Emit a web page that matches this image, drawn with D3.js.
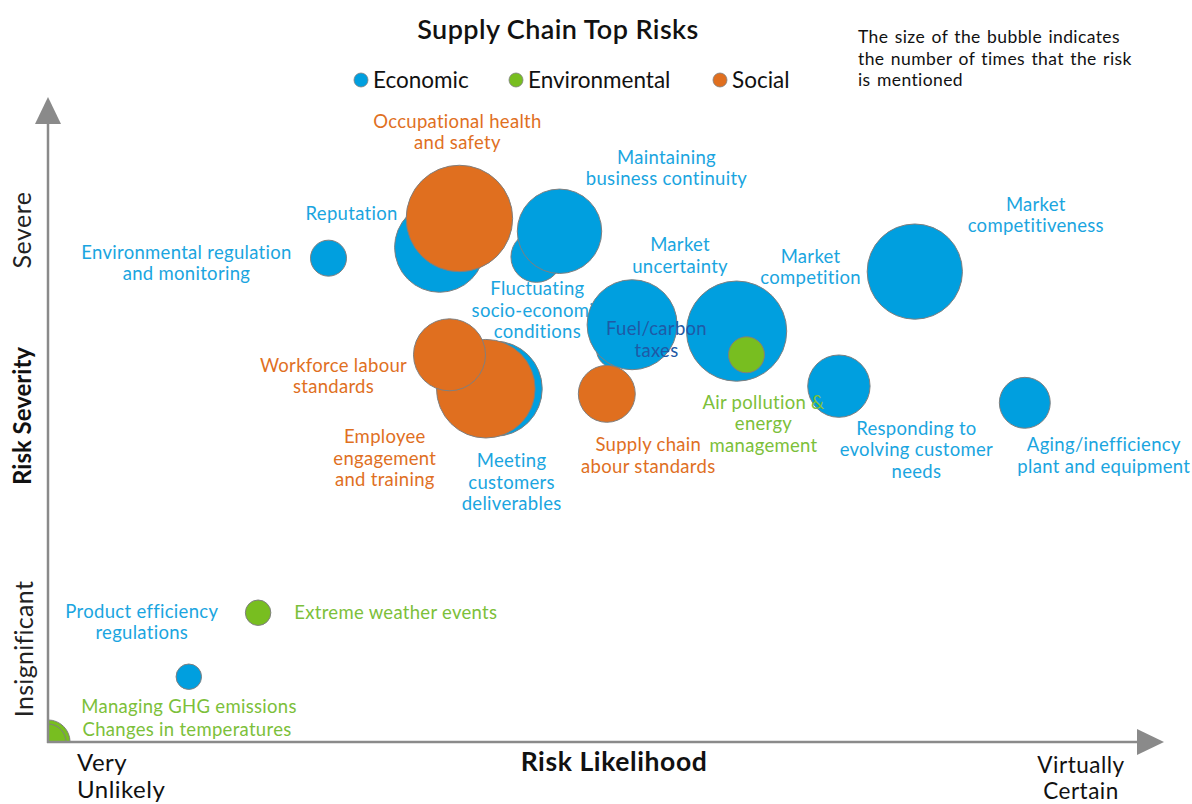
<!DOCTYPE html>
<html>
<head>
<meta charset="utf-8">
<script src="https://cdn.jsdelivr.net/npm/d3@7"></script>
<style>
  body { margin: 0; background: #fff; }
  svg { display: block; }
  text { font-family: Lato, "Noto Sans", sans-serif; }
</style>
</head>
<body>
<div id="chart"></div>
<script>
// data
const risks = [
  "Environmental regulation and monitoring", "Reputation", "Occupational health and safety",
  "Fluctuating socio-economic conditions", "Maintaining business continuity", "Fuel/carbon taxes",
  "Market uncertainty", "Market competition", "Air pollution & energy management",
  "Responding to evolving customer needs", "Market competitiveness", "Aging/inefficiency plant and equipment",
  "Supply chain labour standards", "Meeting customers deliverables", "Employee engagement and training",
  "Workforce labour standards", "Extreme weather events", "Product efficiency regulations",
  "Managing GHG emissions", "Changes in temperatures"
];
const category = [
  "Economic", "Economic", "Social",
  "Economic", "Economic", "Economic",
  "Economic", "Economic", "Environmental",
  "Economic", "Economic", "Economic",
  "Social", "Economic", "Social",
  "Social", "Environmental", "Economic",
  "Environmental", "Environmental"
];
// likelihood 0-100 (x), severity 0-100 (y), times mentioned (bubble size)
const likelihood = [25.5, 35.6, 37.4, 44.4, 46.5, 51.5, 53.1, 62.6, 63.5, 71.9, 78.8, 88.8, 50.8, 40.6, 39.8, 36.5, 19.1, 12.8, 0, 0];
const severity   = [75.6, 77.3, 81.8, 75.8, 79.8, 61.3, 65.2, 64.2, 60.5, 55.6, 73.5, 53.0, 54.4, 55.2, 55.2, 60.5, 20.2, 10.2, 0, 0];
const mentions   = [4, 25, 35, 8, 22, 4, 25, 31, 4, 12, 28, 8, 10, 28, 30, 16, 2, 2, 6, 4];

const labelLines = [
  ["Environmental regulation", "and monitoring"], ["Reputation"], ["Occupational health", "and safety"],
  ["Fluctuating", "socio-economic", "conditions"], ["Maintaining", "business continuity"], ["Fuel/carbon", "taxes"],
  ["Market", "uncertainty"], ["Market", "competition"], ["Air pollution &", "energy", "management"],
  ["Responding to", "evolving customer", "needs"], ["Market", "competitiveness"], ["Aging/inefficiency", "plant and equipment"],
  ["Supply chain", "abour standards"], ["Meeting", "customers", "deliverables"], ["Employee", "engagement", "and training"],
  ["Workforce labour", "standards"], ["Extreme weather events"], ["Product efficiency", "regulations"],
  ["Managing GHG emissions"], ["Changes in temperatures"]
];

const legendItems = ["Economic", "Environmental", "Social"];

// label placement relative to bubble centre (px)
const labelOffsets = [
  [-142, -6], [-88, -34], [-2, -97],
  [1, 32], [107, -74], [42, -21],
  [48, -80], [74, -75], [17, 47.5],
  [77.5, 42], [121, -67.5], [79, 42],
  [41.5, 51], [17, 72], [-101, 48],
  [-116, 10.5], [137.7, 0], [-47, -65.5],
  [141, -35], [139, -12]
];

const width = 1192;
const height = 804;
const origin = { x: 48, y: 742 };

const fill = { Economic: "#009FDF", Environmental: "#78BE20", Social: "#E06F1F" };
const textColor = { Economic: "#1AA5E0", Environmental: "#7CC03A", Social: "#E0701F" };

const data = risks.map((name, i) => ({
  name, cat: category[i], x: likelihood[i], y: severity[i], n: mentions[i],
  lines: labelLines[i], off: labelOffsets[i]
}));

const svg = d3.select("#chart").append("svg")
  .attr("width", width)
  .attr("height", height);

const xScale = d3.scaleLinear().domain([0, 100]).range([origin.x, 1148]);
const yScale = d3.scaleLinear().domain([0, 100]).range([origin.y, 102]);
const rScale = d3.scaleSqrt().domain([0, 1]).range([0, 9]);

svg.append("clipPath").attr("id", "plot")
  .append("rect")
  .attr("x", origin.x).attr("y", 0)
  .attr("width", width - origin.x).attr("height", origin.y);

// labels that sit behind the bubbles
const behind = ["Fluctuating socio-economic conditions"];

const drawLabels = (sel) => {
  sel.each(function (d) {
    const t = d3.select(this).append("text")
      .attr("text-anchor", "middle")
      .attr("font-size", 18.5)
      .attr("letter-spacing", 0.3)
      .attr("fill", d.name === "Fuel/carbon taxes" ? "#1F5AA6" : textColor[d.cat]);
    d.lines.forEach((line, j) => {
      t.append("tspan")
        .attr("x", xScale(d.x) + d.off[0])
        .attr("y", yScale(d.y) + d.off[1] + j * 21.5)
        .attr("dy", "0.35em")
        .text(line);
    });
  });
};

svg.append("g").selectAll("g")
  .data(data.filter(d => behind.includes(d.name)))
  .join("g")
  .call(drawLabels);

// bubbles
svg.append("g")
  .attr("clip-path", "url(#plot)")
  .selectAll("circle")
  .data(data)
  .join("circle")
  .attr("cx", d => xScale(d.x))
  .attr("cy", d => yScale(d.y))
  .attr("r", d => rScale(d.n))
  .attr("fill", d => fill[d.cat])
  .attr("stroke", "#7f7f7f")
  .attr("stroke-width", 1);

svg.append("g").selectAll("g")
  .data(data.filter(d => !behind.includes(d.name)))
  .join("g")
  .call(drawLabels);

// axes with arrow heads
const axisColor = "#8a8a8a";
svg.append("line")
  .attr("x1", origin.x).attr("y1", origin.y + 1)
  .attr("x2", origin.x).attr("y2", 118)
  .attr("stroke", axisColor).attr("stroke-width", 2.5);
svg.append("path")
  .attr("d", `M${origin.x},97 L${origin.x - 13},124 L${origin.x + 13},124 Z`)
  .attr("fill", axisColor);
svg.append("line")
  .attr("x1", origin.x - 1).attr("y1", origin.y)
  .attr("x2", 1142).attr("y2", origin.y)
  .attr("stroke", axisColor).attr("stroke-width", 2.5);
svg.append("path")
  .attr("d", `M1164,${origin.y} L1137,${origin.y - 13} L1137,${origin.y + 13} Z`)
  .attr("fill", axisColor);

// axis titles
svg.append("text")
  .attr("x", 614).attr("y", 762).attr("dy", "0.35em")
  .attr("text-anchor", "middle")
  .attr("font-size", 26.5).attr("font-weight", 700)
  .attr("letter-spacing", 0.6)
  .attr("fill", "#111")
  .text("Risk Likelihood");

svg.append("text")
  .attr("transform", "translate(23,416) rotate(-90)")
  .attr("dy", "0.35em")
  .attr("text-anchor", "middle")
  .attr("font-size", 24).attr("font-weight", 700)
  .attr("fill", "#111")
  .text("Risk Severity");

svg.append("text")
  .attr("transform", "translate(22,230) rotate(-90)")
  .attr("dy", "0.35em")
  .attr("text-anchor", "middle")
  .attr("font-size", 25)
  .attr("letter-spacing", 0.5)
  .attr("fill", "#222")
  .text("Severe");

svg.append("text")
  .attr("transform", "translate(24,649) rotate(-90)")
  .attr("dy", "0.35em")
  .attr("text-anchor", "middle")
  .attr("font-size", 25)
  .attr("letter-spacing", 0.3)
  .attr("fill", "#222")
  .text("Insignificant");

const endLabel = (lines, x, y, anchor, gap, size) => {
  const t = svg.append("text")
    .attr("text-anchor", anchor)
    .attr("font-size", size)
    .attr("letter-spacing", 0.5)
    .attr("fill", "#111");
  lines.forEach((line, j) => {
    t.append("tspan").attr("x", x).attr("y", y + j * gap).attr("dy", "0.35em").text(line);
  });
};
endLabel(["Very", "Unlikely"], 77, 763, "start", 27, 24);
endLabel(["Virtually", "Certain"], 1081, 765, "middle", 26.5, 22.5);

// title
svg.append("text")
  .attr("x", 558).attr("y", 30).attr("dy", "0.35em")
  .attr("text-anchor", "middle")
  .attr("font-family", "'Open Sans', sans-serif")
  .attr("font-size", 27).attr("font-weight", 600)
  .attr("letter-spacing", 0.4)
  .attr("fill", "#111")
  .text("Supply Chain Top Risks");

// legend
const legendX = [361, 516, 720];
const legend = svg.append("g")
  .selectAll("g")
  .data(legendItems)
  .join("g")
  .attr("transform", (d, i) => `translate(${legendX[i]},80)`);
legend.append("circle")
  .attr("r", 7)
  .attr("fill", d => fill[d])
  .attr("stroke", "#7f7f7f")
  .attr("stroke-width", 0.8);
legend.append("text")
  .attr("x", 12).attr("dy", "0.35em")
  .attr("font-family", "'Open Sans', sans-serif")
  .attr("font-size", 22.5)
  .attr("fill", "#111")
  .text(d => d);

// note on bubble size
const note = svg.append("text")
  .attr("font-size", 17.5)
  .attr("letter-spacing", 0.4)
  .attr("word-spacing", 1.5)
  .attr("fill", "#111");
["The size of the bubble indicates", "the number of times that the risk", "is mentioned"]
  .forEach((line, j) => {
    note.append("tspan").attr("x", 858).attr("y", 37 + j * 21.5).attr("dy", "0.35em").text(line);
  });
</script>
</body>
</html>
